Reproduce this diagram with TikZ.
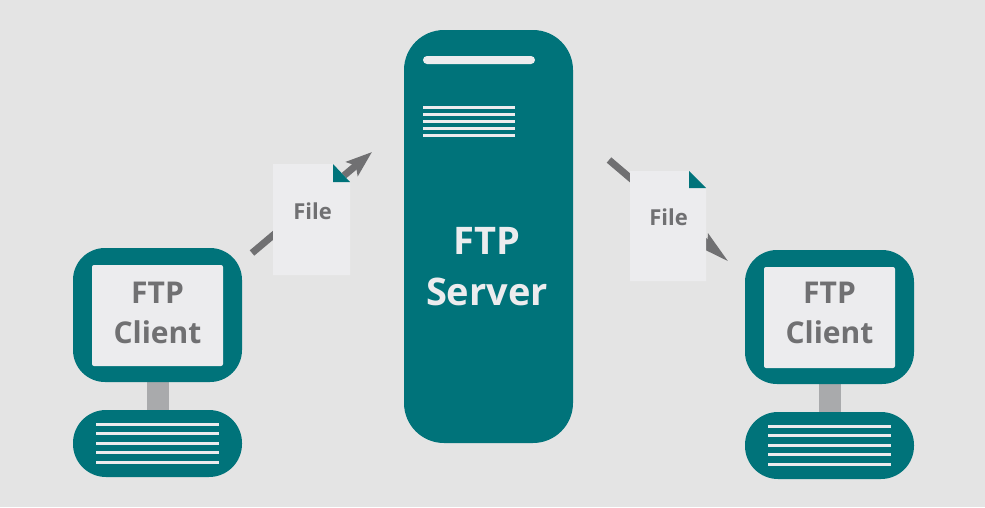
\documentclass[tikz,border=0pt]{standalone}
\usepackage{fontspec}
\setmainfont{Open Sans}
\usetikzlibrary{arrows.meta}
\definecolor{ftpteal}{HTML}{00737A}
\definecolor{ftpbg}{HTML}{E4E4E4}
\definecolor{ftpsheet}{HTML}{ECECEE}
\definecolor{ftpgrey}{HTML}{707072}
\definecolor{ftpneck}{HTML}{A9AAAC}
\tikzset{
  tealbox/.style={fill=ftpteal,inner sep=0pt,minimum width=169pt},
  screenbox/.style={fill=ftpsheet,rounded corners=2pt,inner sep=0pt,minimum width=131pt,minimum height=101pt},
  screenlabel/.style={align=center,text=ftpgrey,inner sep=0pt,font=\fontsize{30}{40}\selectfont\bfseries},
  rowline/.style={draw=ftpsheet,line width=3pt},
  filelabel/.style={text=ftpgrey,font=\fontsize{22}{26}\selectfont\bfseries,inner sep=0pt},
  filearrow/.style={draw=ftpgrey,line width=7pt},
}
\begin{document}
\begin{tikzpicture}[x=1pt,y=-1pt]
\fill[ftpbg] (0,0) rectangle (985,507);
\useasboundingbox (0,0) rectangle (985,507);
% server
\node[tealbox,rounded corners=40pt,minimum height=413pt] (server) at (488.5,236.5) {};
\node[fill=ftpsheet,rounded corners=4pt,inner sep=0pt,minimum width=112pt,minimum height=8pt] (slot) at (479,60) {};
\foreach \ly in {107,114,121,128,135}
  \draw[rowline] (423,\ly) -- (515,\ly);
\node[text=ftpsheet,align=center,inner sep=0pt,font=\fontsize{38}{51}\selectfont\bfseries] (serverlabel) at (487,267) {FTP\\Server};
% clients
\foreach \cx/\dy/\nm in {157.5/0/l,829.5/2/r} {
  \node[fill=ftpneck,inner sep=0pt,minimum width=22pt,minimum height=30pt] (neck\nm) at (\cx,396+\dy) {};
  \node[tealbox,rounded corners=32pt,minimum height=134pt] (monitor\nm) at (\cx,315+\dy) {};
  \node[screenbox] (screen\nm) at (\cx,315.5+\dy) {};
  \node[screenlabel] (label\nm) at (\cx,313) {FTP\\Client};
  \node[tealbox,rounded corners=33pt,minimum height=67pt] (base\nm) at (\cx,443.5+\dy) {};
  \foreach \ly in {424,433.5,443,452.5,462}
    \draw[rowline] (\cx-61.5,\ly+\dy) -- (\cx+61.5,\ly+\dy);
}
% arrows run behind the sheets
\coordinate (leftfrom) at (252,253);
\coordinate (leftto) at (372,152);
\coordinate (rightfrom) at (609,160);
\coordinate (rightto) at (729,262);
\draw[filearrow,-{Stealth[length=26pt,width=18pt,inset=5pt]}] (leftfrom) -- (leftto);
\draw[filearrow,-{Stealth[length=33pt,width=15pt,inset=5pt]}] (rightfrom) -- (rightto);
% files
\fill[ftpsheet] (273,164) -- (333,164) -- (350,182) -- (350,275) -- (273,275) -- cycle;
\fill[ftpteal] (333,164) -- (350,182) -- (333,182) -- cycle;
\node[filelabel] (filel) at (312.5,211) {File};
\fill[ftpsheet] (630,171) -- (689,171) -- (706,188) -- (706,281) -- (630,281) -- cycle;
\fill[ftpteal] (689,171) -- (706,188) -- (689,188) -- cycle;
\node[filelabel] (filer) at (668.5,217) {File};
\end{tikzpicture}
\end{document}
